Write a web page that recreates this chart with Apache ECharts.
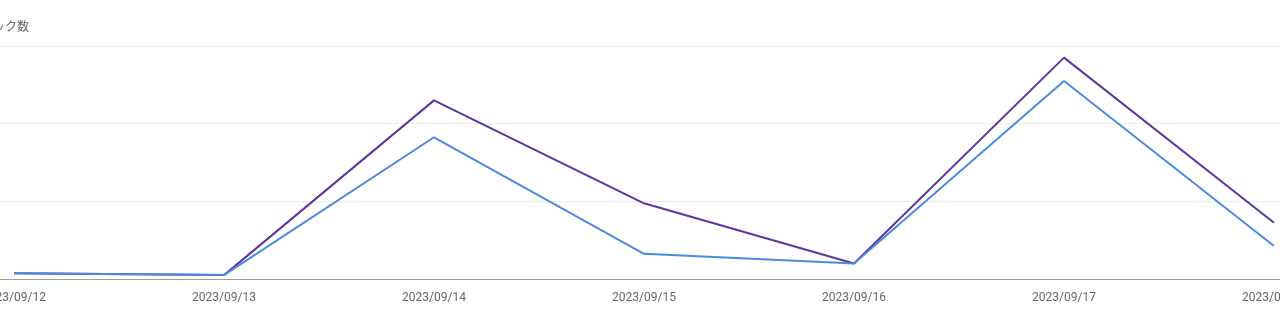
<!DOCTYPE html>
<html>
<head>
<meta charset="utf-8">
<script src="https://cdn.jsdelivr.net/npm/echarts@6/dist/echarts.min.js"></script>
<style>
html,body{margin:0;padding:0;background:#fff;}
#chart{width:1280px;height:332px;}
</style>
</head>
<body>
<div id="chart"></div>
<script>
var categories = ['2023/09/12','2023/09/13','2023/09/14','2023/09/15','2023/09/16','2023/09/17','2023/09/18'];
var purpleValues = [3, 2, 92, 39, 8, 114, 29];
var blueValues = [3, 2, 73, 13, 8, 102, 17];
var yTicks = [0, 40, 80, 120];
var yAxisTitle = 'クリック数';

function toPairs(arr){ return arr.map(function(v,i){ return [i, v]; }); }

var chart = echarts.init(document.getElementById('chart'));
chart.setOption({
  animation: false,
  title: {
    text: yAxisTitle,
    left: -36,
    top: 15,
    textStyle: {fontSize: 12, fontWeight: 'normal', color: '#5f6368', fontFamily: 'Noto Sans CJK JP'}
  },
  grid: {left: 0, right: 0, top: 46, bottom: 53, containLabel: false, outerBoundsMode: 'none'},
  xAxis: {
    type: 'value',
    min: -14/210,
    max: 6 + 6/210,
    axisLine: {show: true, lineStyle: {color: '#9e9e9e', width: 1}},
    axisTick: {show: false},
    splitLine: {show: false},
    axisLabel: {
      customValues: categories.map(function(c,i){return i;}),
      formatter: function(v){ return categories[Math.round(v)]; },
      hideOverlap: false,
      color: '#666', fontSize: 12, fontFamily: 'Roboto', margin: 13
    }
  },
  yAxis: {
    type: 'value',
    min: yTicks[0],
    max: yTicks[yTicks.length-1],
    interval: yTicks[1]-yTicks[0],
    axisLine: {show: false},
    axisTick: {show: false},
    axisLabel: {show: false},
    splitLine: {lineStyle: {color: '#ebebeb', width: 1}}
  },
  series: [
    {type: 'line', data: toPairs(purpleValues), symbol: 'none', lineStyle: {color: '#5e35a1', width: 2}, itemStyle:{color:'#5e35a1'}},
    {type: 'line', data: toPairs(blueValues), symbol: 'none', lineStyle: {color: '#4a8ae0', width: 2}, itemStyle:{color:'#4a8ae0'}}
  ]
});
</script>
</body>
</html>
